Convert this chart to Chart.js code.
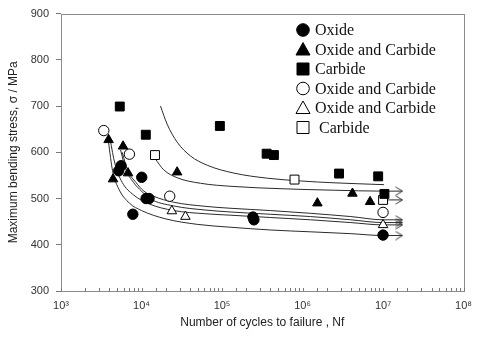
<!DOCTYPE html>
<html>
<head>
<meta charset="utf-8">
<script src="https://cdn.jsdelivr.net/npm/chart.js@4.4.1/dist/chart.umd.min.js"></script>
<style>
  body { margin: 0; background: #fff; }
  #wrap { width: 480px; height: 340px; }
</style>
</head>
<body>
<div id="wrap"><canvas id="chart"></canvas></div>
<script>
// scatter data, N = cycles, S = stress (MPa)
const oxideN = [5570, 5210, 10070, 11400, 12400, 7800, 242000, 249000, 1e7];
const oxideS = [571, 560, 546, 500, 500, 466, 460, 454, 421];
const oxCarbN = [3900, 5900, 4430, 6800, 27700, 1530000, 4170000, 6900000];
const oxCarbS = [627, 613, 542, 555, 557, 490, 511, 493];
const carbN = [5370, 11300, 94000, 358000, 441000, 2840000, 8700000, 10400000];
const carbS = [699, 638, 657, 597, 594, 554, 548, 510];
const oxCarbOpenCircN = [3400, 7070, 22400, 1e7];
const oxCarbOpenCircS = [647, 596, 505, 470];
const oxCarbOpenTriN = [23800, 35100, 1e7];
const oxCarbOpenTriS = [473, 461, 443];
const carbOpenN = [14700, 795000, 1e7];
const carbOpenS = [594, 541, 497];

// fitted curves
const curveTopN = [17200, 20800, 27700, 40600, 65500, 140600, 365000, 948000, 2460000, 10300000];
const curveTopS = [700, 661, 622, 592, 572, 555, 544, 538, 534, 530];
const curve2N = [14800, 18900, 27700, 54000, 140600, 589000, 2450000, 1e7, 17400000];
const curve2S = [586, 562, 545, 533, 526, 521, 518, 516, 516];
const curveL1N = [3890, 4370, 5250, 7080, 10000, 20000, 50100, 126000, 398000, 1260000, 3980000, 1e7, 17400000];
const curveL1S = [622, 560, 520, 490, 474, 456, 444, 438, 432, 428, 424, 420, 420];
const curveL2N = [4070, 4680, 5750, 7940, 12600, 25100, 63100, 126000, 398000, 1260000, 3980000, 1e7, 17400000];
const curveL2S = [628, 575, 535, 508, 488, 474, 467, 464, 459, 454, 448, 443, 443];
const curveL3N = [5500, 6310, 7940, 10000, 12600, 25100, 63100, 126000, 398000, 1260000, 3980000, 1e7, 17400000];
const curveL3S = [605, 565, 535, 516, 500, 484, 475, 471, 466, 461, 454, 448, 448];
const curveL4N = [5750, 6760, 8510, 10700, 14100, 25100, 63100, 126000, 398000, 1260000, 3980000, 1e7, 17400000];
const curveL4S = [600, 560, 535, 516, 505, 492, 483, 479, 474, 468, 461, 454, 454];
const runoutN = [1e7, 17400000];
const runoutS = [497, 497];

const yTicks = [300, 400, 500, 600, 700, 800, 900];
const sup = ["⁰", "¹", "²", "³", "⁴", "⁵", "⁶", "⁷", "⁸", "⁹"];

function pts(xs, ys) {
  return xs.map((x, i) => ({ x: x, y: ys[i] }));
}

// little open arrow head ">" with its tip at the canvas centre
const arrowHead = document.createElement("canvas");
arrowHead.width = 14;
arrowHead.height = 10;
(function () {
  const c = arrowHead.getContext("2d");
  c.strokeStyle = "#333";
  c.lineWidth = 1;
  c.beginPath();
  c.moveTo(0.5, 1);
  c.lineTo(7, 5);
  c.lineTo(0.5, 9);
  c.stroke();
})();

function curve(xs, ys, arrow) {
  return {
    type: "line",
    data: pts(xs, ys),
    borderColor: "#2b2b2b",
    borderWidth: 1,
    fill: false,
    cubicInterpolationMode: "monotone",
    pointStyle: arrowHead,
    pointRadius: (ctx) => (arrow && ctx.dataIndex === xs.length - 1 ? 4 : 0),
    pointHoverRadius: 0,
    order: 10
  };
}

function marks(label, xs, ys, style, filled, r) {
  return {
    type: "scatter",
    label: label,
    data: pts(xs, ys),
    pointStyle: style,
    pointRadius: r,
    pointBackgroundColor: filled ? "#000" : "#fff",
    pointBorderColor: "#000",
    pointBorderWidth: 1,
    order: 1
  };
}

const markerSets = [
  marks("Oxide", oxideN, oxideS, "circle", true, 5.2),
  marks("Oxide and Carbide", oxCarbN, oxCarbS, "triangle", true, 5.5),
  marks("Carbide", carbN, carbS, "rect", true, 6.3),
  marks("Oxide and Carbide", oxCarbOpenCircN, oxCarbOpenCircS, "circle", false, 5.2),
  marks("Oxide and Carbide", oxCarbOpenTriN, oxCarbOpenTriS, "triangle", false, 5.5),
  marks(" Carbide", carbOpenN, carbOpenS, "rect", false, 6.3)
];

// legend drawn inside the plot, top right
const insideLegend = {
  id: "insideLegend",
  afterDraw(chart) {
    const ctx = chart.ctx;
    const x0 = 303, y0 = 30, step = 19.5;
    ctx.save();
    ctx.font = "16px 'Liberation Serif', 'Times New Roman', serif";
    ctx.textBaseline = "middle";
    ctx.lineWidth = 1;
    markerSets.forEach((ds, i) => {
      const y = y0 + i * step;
      ctx.beginPath();
      if (ds.pointStyle === "circle") {
        ctx.arc(x0, y, 6.3, 0, Math.PI * 2);
      } else if (ds.pointStyle === "triangle") {
        ctx.moveTo(x0, y - 7);
        ctx.lineTo(x0 + 7, y + 5.5);
        ctx.lineTo(x0 - 7, y + 5.5);
        ctx.closePath();
      } else {
        ctx.rect(x0 - 6, y - 6, 12, 12);
      }
      ctx.fillStyle = ds.pointBackgroundColor;
      ctx.fill();
      ctx.strokeStyle = "#000";
      ctx.stroke();
      ctx.fillStyle = "#111";
      ctx.fillText(ds.label, x0 + 12, y + 1);
    });
    ctx.restore();
  }
};

// box round the plot area and the small inward ticks on the log axis
const plotBox = {
  id: "plotBox",
  afterDatasetsDraw(chart) {
    const a = chart.chartArea;
    const ctx = chart.ctx;
    const xs = chart.scales.x;
    ctx.save();
    ctx.strokeStyle = "#8a8a8a";
    ctx.lineWidth = 1;
    ctx.strokeRect(Math.round(a.left) + 0.5, Math.round(a.top) + 0.5,
      Math.round(a.right - a.left), Math.round(a.bottom - a.top));
    ctx.strokeStyle = "#777";
    ctx.beginPath();
    xs.ticks.forEach((t) => {
      const px = Math.round(xs.getPixelForValue(t.value)) + 0.5;
      ctx.moveTo(px, Math.round(a.bottom));
      ctx.lineTo(px, Math.round(a.bottom) - 3);
    });
    ctx.stroke();
    ctx.restore();
  }
};

const ctx = document.getElementById("chart").getContext("2d");
new Chart(ctx, {
  data: {
    datasets: [
      curve(curveTopN, curveTopS, false),
      curve(curve2N, curve2S, true),
      curve(curveL1N, curveL1S, true),
      curve(curveL2N, curveL2S, true),
      curve(curveL3N, curveL3S, true),
      curve(curveL4N, curveL4S, true),
      curve(runoutN, runoutS, true)
    ].concat(markerSets)
  },
  options: {
    responsive: true,
    maintainAspectRatio: false,
    animation: false,
    layout: { padding: { top: 9, right: 16, left: 0, bottom: 0 } },
    plugins: {
      legend: { display: false },
      tooltip: { enabled: false }
    },
    scales: {
      x: {
        type: "logarithmic",
        position: "bottom",
        min: 1000,
        max: 1e8,
        afterFit: (s) => { s.height = 49; },
        border: { display: false },
        grid: { drawOnChartArea: false, drawTicks: false },
        ticks: {
          autoSkip: false,
          maxRotation: 0,
          padding: 8,
          color: "#333",
          font: { family: "'Liberation Sans', Arial, sans-serif", size: 11 },
          callback: function (v) {
            const e = Math.log10(v);
            if (Math.abs(e - Math.round(e)) < 1e-9) return "10" + sup[Math.round(e)];
            return "";
          }
        },
        title: {
          display: true,
          text: "Number of cycles to failure , Nf",
          color: "#222",
          font: { family: "'Liberation Sans', Arial, sans-serif", size: 12 },
          padding: { top: 10, bottom: 10 }
        }
      },
      y: {
        min: 300,
        max: 900,
        afterFit: (s) => { s.width = 61; },
        afterBuildTicks: (s) => { s.ticks = yTicks.map((v) => ({ value: v })); },
        border: { display: false },
        grid: { drawOnChartArea: false, tickLength: 5, color: "#777" },
        ticks: {
          padding: 7,
          color: "#333",
          font: { family: "'Liberation Sans', Arial, sans-serif", size: 11 }
        },
        title: {
          display: true,
          text: "Maximum bending stress, σ / MPa",
          color: "#222",
          font: { family: "'Liberation Sans', Arial, sans-serif", size: 12 },
          padding: { top: 6, bottom: 6 }
        }
      }
    }
  },
  plugins: [plotBox, insideLegend]
});
</script>
</body>
</html>
